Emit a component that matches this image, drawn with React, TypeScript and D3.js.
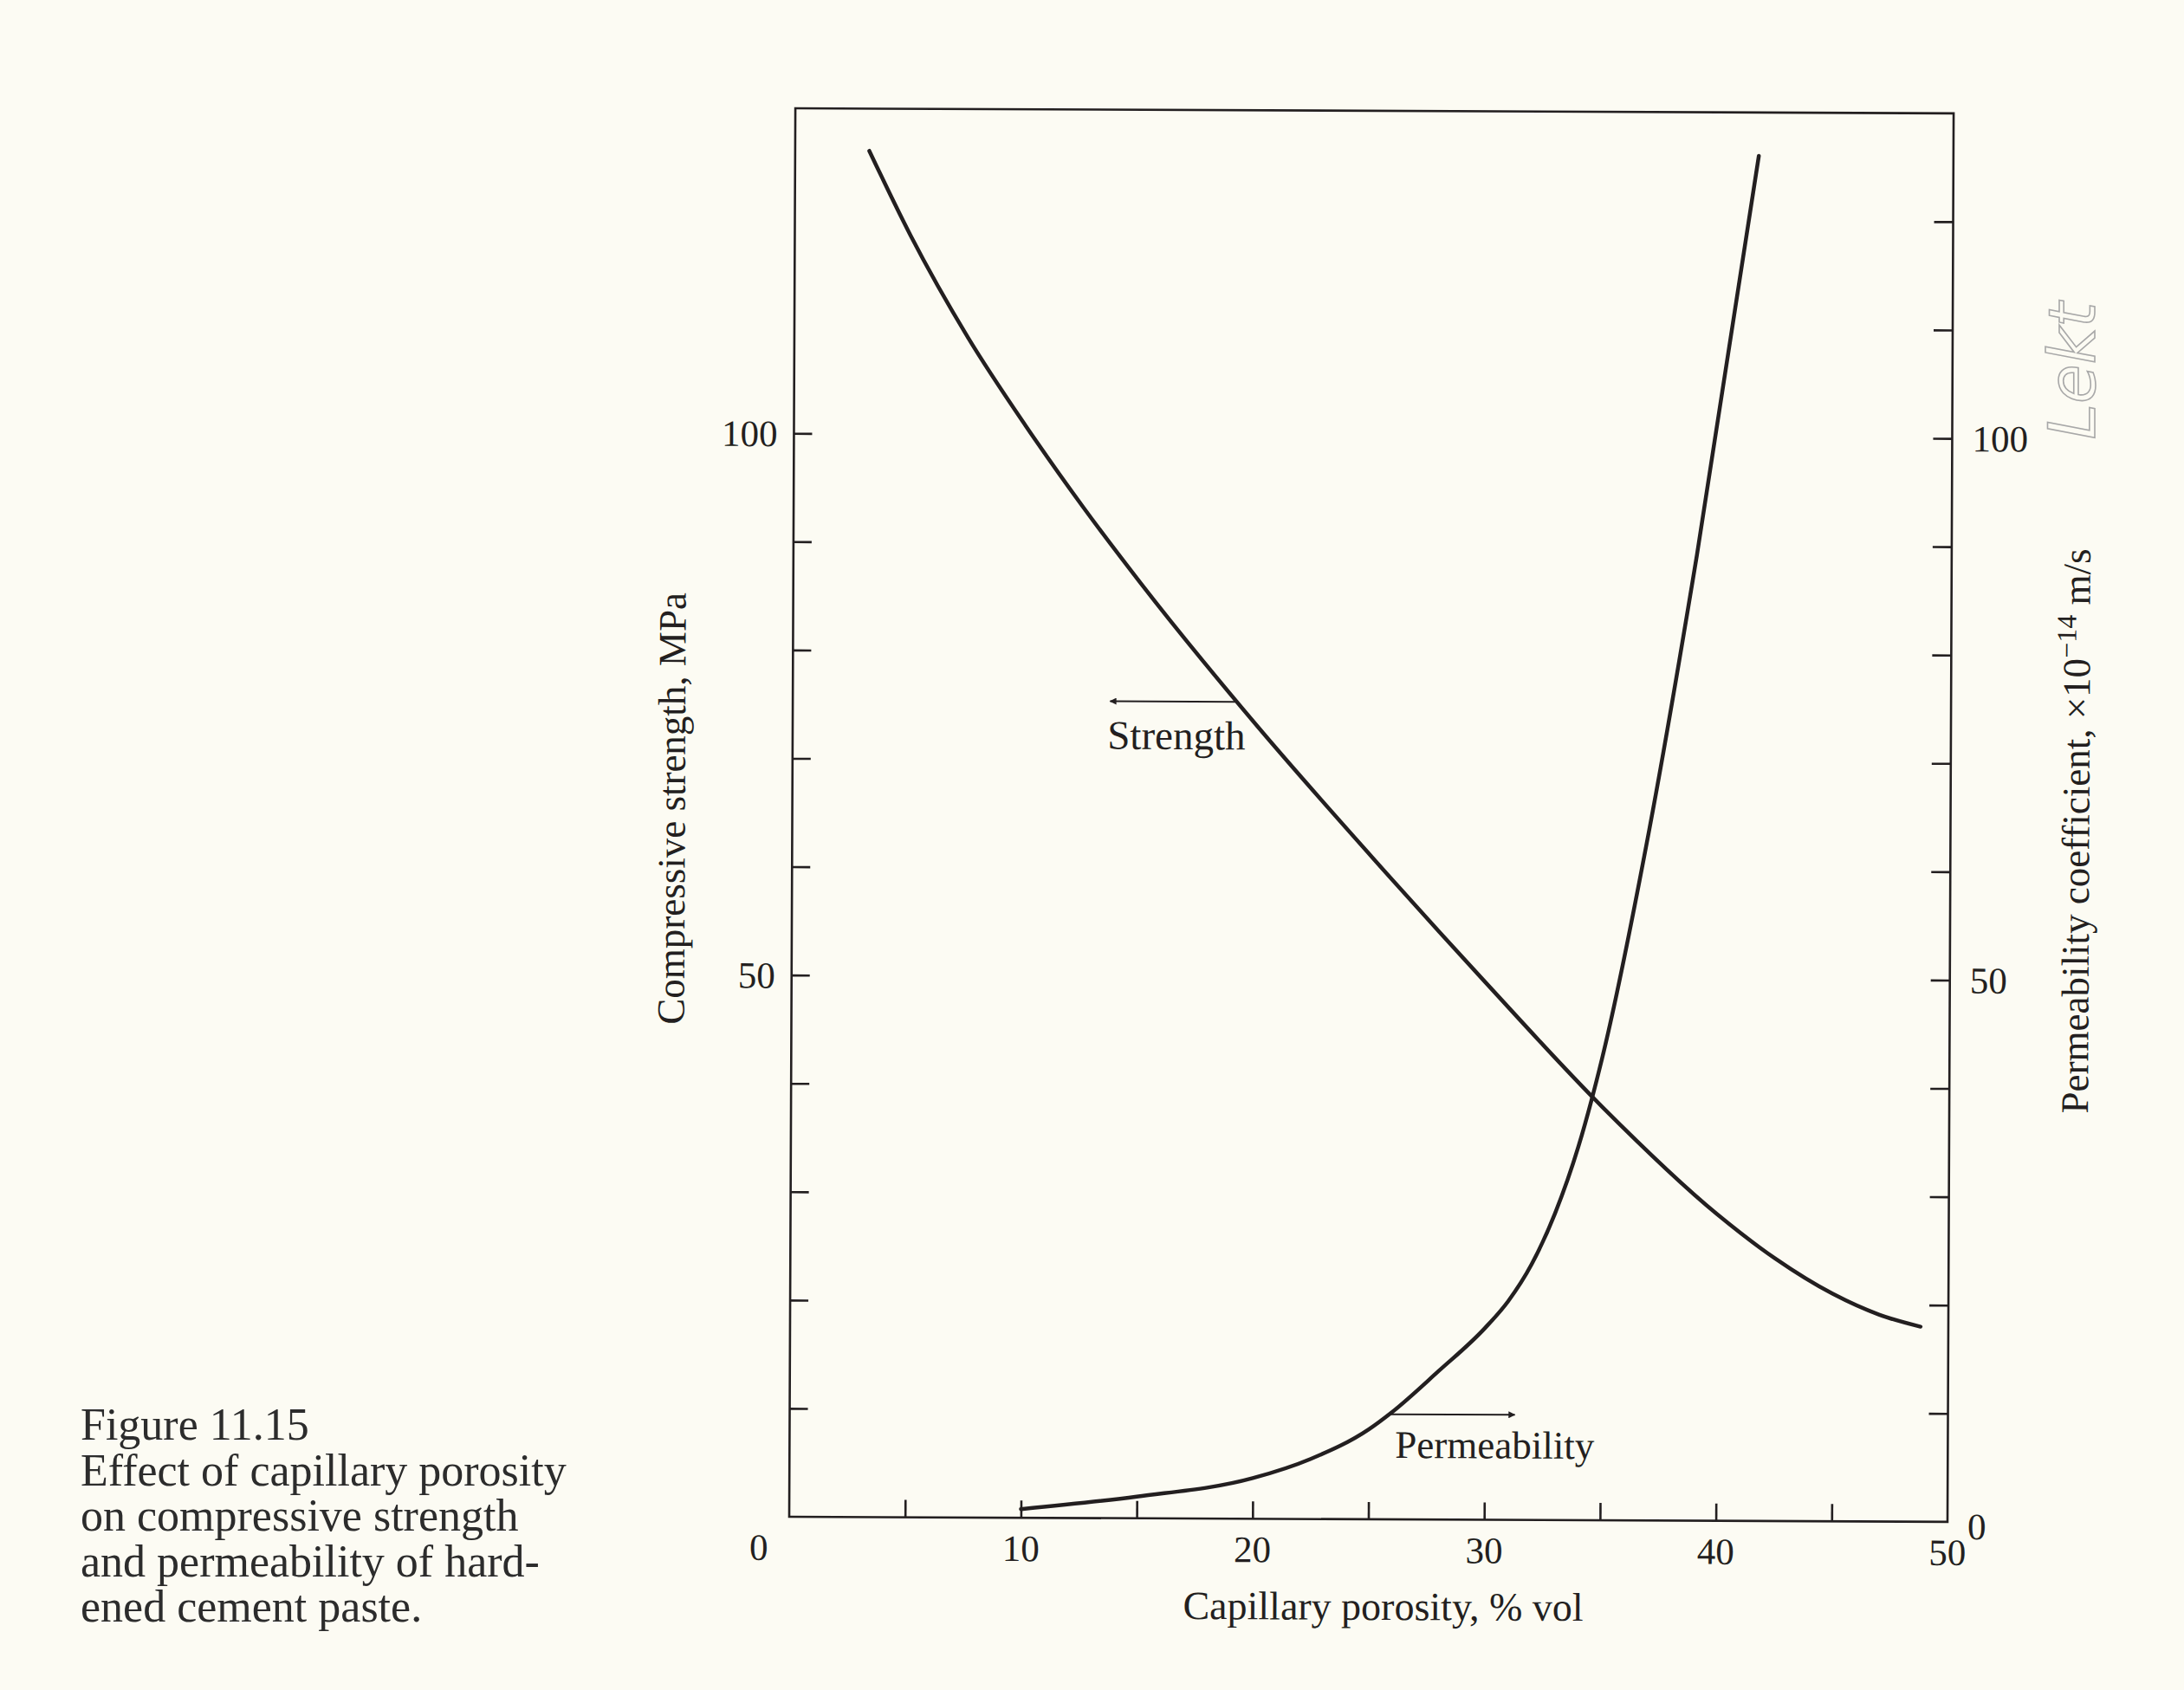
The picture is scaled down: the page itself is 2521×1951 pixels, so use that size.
import { useEffect, useRef } from "react";
import * as d3 from "d3";

const W = 2521;
const H = 1951;

// Strength curve: capillary porosity (% vol) -> compressive strength (MPa)
const strengthPorosity = [3.2, 5, 7.5, 10, 12.5, 15, 20, 25, 30, 35, 40, 42.5, 45, 47, 48.8];
const strengthMPa = [126.1, 118.3, 108.9, 100.8, 93.3, 86.3, 73.3, 61.2, 49.5, 38.2, 28.3, 24.25, 21.0, 19.1, 18.0];

// Permeability curve: capillary porosity (% vol) -> permeability coefficient (x10^-14 m/s)
const permPorosity = [10, 15, 20, 22.5, 25, 26, 28, 30, 31, 32, 33, 34, 35, 37, 39, 41.6];
const permCoeff = [0.8, 2.0, 3.75, 5.55, 8.3, 9.9, 13.7, 17.7, 20.2, 23.6, 28.3, 34.5, 42.6, 63.8, 89.1, 126];

// axis ticks and labels
const xTicks = [5, 10, 15, 20, 25, 30, 35, 40, 45];
const xLabels = [0, 10, 20, 30, 40, 50];
const leftTicks = [10, 20, 30, 40, 50, 60, 70, 80, 90, 100];
const leftLabels = [50, 100];
const rightTicks = [10, 20, 30, 40, 50, 60, 70, 80, 90, 100, 110, 120];
const rightLabels = [0, 50, 100];

const captionLines = [
  "Figure 11.15",
  "Effect of capillary porosity",
  "on compressive strength",
  "and permeability of hard-",
  "ened cement paste.",
];

const FONT = "'Liberation Serif', 'Times New Roman', serif";
const INK = "#231f20";

export default function App() {
  const svgRef = useRef<SVGSVGElement | null>(null);

  useEffect(() => {
    if (!svgRef.current) return;
    const svg = d3.select(svgRef.current);
    svg.selectAll("*").remove();

    svg.append("rect").attr("width", W).attr("height", H).attr("fill", "#fcfbf3");

    const defs = svg.append("defs");
    defs
      .append("marker")
      .attr("id", "head")
      .attr("viewBox", "0 0 10 10")
      .attr("refX", 9)
      .attr("refY", 5)
      .attr("markerWidth", 16)
      .attr("markerHeight", 8)
      .attr("markerUnits", "userSpaceOnUse")
      .attr("orient", "auto")
      .append("path")
      .attr("d", "M0,0 L10,5 L0,10 Z")
      .attr("fill", INK);

    const x = d3.scaleLinear().domain([0, 50]).range([911, 2248]);
    const y = d3.scaleLinear().domain([0, 130]).range([1751, 125]);

    // the scanned page is turned a little clockwise
    const g = svg.append("g").attr("transform", "rotate(0.25, 911, 1751)");

    // frame
    g.append("rect")
      .attr("x", x(0))
      .attr("y", y(130))
      .attr("width", x(50) - x(0))
      .attr("height", y(0) - y(130))
      .attr("fill", "none")
      .attr("stroke", INK)
      .attr("stroke-width", 2.6);

    const tickStyle = (sel: any) => {
      sel.select(".domain").remove();
      sel.selectAll(".tick line").attr("stroke", INK).attr("stroke-width", 2.6);
      sel.selectAll(".tick text").remove();
    };

    g.append("g")
      .attr("transform", `translate(0,${y(0)})`)
      .call(d3.axisBottom(x).tickValues(xTicks).tickSize(-20).tickFormat(() => ""))
      .call(tickStyle);

    g.append("g")
      .attr("transform", `translate(${x(0)},0)`)
      .call(d3.axisLeft(y).tickValues(leftTicks).tickSize(-21).tickFormat(() => ""))
      .call(tickStyle);

    g.append("g")
      .attr("transform", `translate(${x(50)},0)`)
      .call(d3.axisRight(y).tickValues(rightTicks).tickSize(-22).tickFormat(() => ""))
      .call(tickStyle);

    // tick labels
    g.selectAll(".xl")
      .data(xLabels)
      .join("text")
      .attr("class", "xl")
      .attr("x", (d: number) => (d === 0 ? x(d) - 35 : x(d)))
      .attr("y", y(0) + 50)
      .attr("text-anchor", "middle")
      .attr("font-family", FONT)
      .attr("font-size", 43)
      .attr("fill", INK)
      .text((d: number) => d);

    g.selectAll(".yl")
      .data(leftLabels)
      .join("text")
      .attr("class", "yl")
      .attr("x", x(0) - 19)
      .attr("y", (d: number) => y(d) + 15)
      .attr("text-anchor", "end")
      .attr("font-family", FONT)
      .attr("font-size", 43)
      .attr("fill", INK)
      .text((d: number) => d);

    g.selectAll(".yr")
      .data(rightLabels)
      .join("text")
      .attr("class", "yr")
      .attr("x", x(50) + 23)
      .attr("y", (d: number) => y(d) + (d === 0 ? 20 : 15))
      .attr("text-anchor", "start")
      .attr("font-family", FONT)
      .attr("font-size", 43)
      .attr("fill", INK)
      .text((d: number) => d);

    // axis titles
    g.append("text")
      .attr("x", 1597)
      .attr("y", 1867)
      .attr("text-anchor", "middle")
      .attr("font-family", FONT)
      .attr("font-size", 46)
      .attr("fill", INK)
      .text("Capillary porosity, % vol");

    g.append("text")
      .attr("transform", "translate(787,934) rotate(-90)")
      .attr("text-anchor", "middle")
      .attr("font-family", FONT)
      .attr("font-size", 45)
      .attr("fill", INK)
      .text("Compressive strength, MPa");

    const rt = g
      .append("text")
      .attr("transform", "translate(2408,953) rotate(-90)")
      .attr("text-anchor", "middle")
      .attr("font-family", FONT)
      .attr("font-size", 45)
      .attr("fill", INK);
    rt.append("tspan").text("Permeability coefficient, \u00d710");
    rt.append("tspan").attr("dy", -16).attr("font-size", 32).text("\u221214");
    rt.append("tspan").attr("dy", 16).text(" m/s");

    // curves (monotone in x, so uneven spacing of the read-off points is fine)
    const pt = (d: [number, number]) => [x(d[0]), y(d[1])] as [number, number];
    const smooth = d3.line().curve(d3.curveMonotoneX);

    const strength = strengthPorosity.map((p, i) => pt([p, strengthMPa[i]]));
    const perm = permPorosity.map((p, i) => pt([p, permCoeff[i]]));

    g.append("path")
      .attr("fill", "none")
      .attr("stroke", INK)
      .attr("stroke-width", 4.5)
      .attr("stroke-linecap", "round")
      .attr("d", smooth(strength));

    g.append("path")
      .attr("fill", "none")
      .attr("stroke", INK)
      .attr("stroke-width", 4.5)
      .attr("stroke-linecap", "round")
      .attr("d", smooth(perm));

    // curve labels with arrows toward their axes
    g.append("line")
      .attr("x1", x(19.1))
      .attr("x2", x(13.7))
      .attr("y1", y(75.4))
      .attr("y2", y(75.4))
      .attr("stroke", INK)
      .attr("stroke-width", 2)
      .attr("marker-end", "url(#head)");

    g.append("text")
      .attr("x", 1354)
      .attr("y", 863)
      .attr("text-anchor", "middle")
      .attr("font-family", FONT)
      .attr("font-size", 47)
      .attr("fill", INK)
      .text("Strength");

    g.append("line")
      .attr("x1", x(25.9))
      .attr("x2", x(31.3))
      .attr("y1", y(9.7))
      .attr("y2", y(9.7))
      .attr("stroke", INK)
      .attr("stroke-width", 2)
      .attr("marker-end", "url(#head)");

    g.append("text")
      .attr("x", 1725)
      .attr("y", 1680)
      .attr("text-anchor", "middle")
      .attr("font-family", FONT)
      .attr("font-size", 45)
      .attr("fill", INK)
      .text("Permeability");

    // pencil note in the margin
    svg
      .append("text")
      .attr("transform", "translate(2418,428) rotate(-90)")
      .attr("text-anchor", "middle")
      .attr("font-family", "'DejaVu Sans', sans-serif")
      .attr("font-style", "italic")
      .attr("font-size", 74)
      .attr("fill", "none")
      .attr("stroke", "#a8a8a8")
      .attr("stroke-width", 1.6)
      .text("Lekt");

    // figure caption
    svg
      .append("g")
      .selectAll("text")
      .data(captionLines)
      .join("text")
      .attr("x", 93)
      .attr("y", (_: string, i: number) => 1662 + i * 52.5)
      .attr("font-family", FONT)
      .attr("font-size", 52)
      .attr("fill", "#2c2c2c")
      .text((d: string) => d);
  }, []);

  return (
    <svg
      ref={svgRef}
      width={W}
      height={H}
      style={{ position: "absolute", left: 0, top: 0, display: "block" }}
    />
  );
}
